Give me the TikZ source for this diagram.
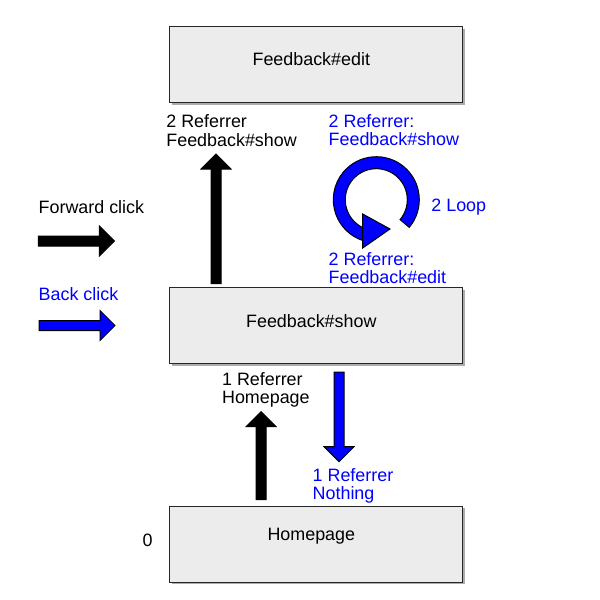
\documentclass[tikz,border=0pt]{standalone}
\usepackage{fontspec}
\setmainfont{Liberation Sans}
\usepackage{tikz}
\usetikzlibrary{calc,shadows}

\tikzset{
  fat/.style={to path={
    ($(\tikztostart)!2.5pt!90:(\tikztotarget)$)
    -- ($(\tikztotarget)!7.5pt!(\tikztostart)!2.5pt!-90:(\tikztostart)$)
    -- ($(\tikztotarget)!7.5pt!(\tikztostart)!7.5pt!-90:(\tikztostart)$)
    -- (\tikztotarget)
    -- ($(\tikztotarget)!7.5pt!(\tikztostart)!7.5pt!90:(\tikztostart)$)
    -- ($(\tikztotarget)!7.5pt!(\tikztostart)!2.5pt!90:(\tikztostart)$)
    -- ($(\tikztostart)!2.5pt!-90:(\tikztotarget)$) -- cycle}},
  fwd/.style={fat,draw=black,fill=black,line width=0.5pt},
  bck/.style={fat,draw=black,fill=blue,line width=0.5pt},
  page/.style={draw=black!85,line width=0.5pt,fill=gray!15,
    minimum width=146.7pt,minimum height=38pt,
    drop shadow={shadow xshift=1.2pt,shadow yshift=-1.2pt,fill=gray!65,opacity=1}},
  txt/.style={anchor=north west,inner sep=0pt,align=left}
}

\begin{document}
\begin{tikzpicture}[x=0.5pt,y=-0.5pt,font=\fontsize{8.95}{9.2}\selectfont]
\useasboundingbox (0,0) rectangle (600,600);

% pages
\node[page,text depth=5.7pt] (edit) at (316,64.7) {\hspace*{-4.7pt}Feedback\#edit};
\node[page,text depth=5pt] (show) at (316,325.7) {\hspace*{-4.7pt}Feedback\#show};
\node[page,text depth=9.5pt] (home) at (316,544) {\hspace*{-4.7pt}Homepage};
\node (zero) at (147.5,540) {0};

% legend
\node[txt] (fwdtxt) at (38.3,200) {Forward click};
\coordinate (fw1) at (38.3,241);
\coordinate (fw2) at (114.3,241);
\draw[fwd] (fw1) to (fw2);
\node[txt,text=blue] (bcktxt) at (38.3,287.3) {Back click};
\coordinate (bk1) at (39,325.5);
\coordinate (bk2) at (115,325.5);
\draw[bck] (bk1) to (bk2);

% clicks
\coordinate (up1) at (216,154);
\coordinate (up2) at (261,411.7);
\coordinate (dn) at (339,461.7);
\draw[fwd] ($(show.north -| up1)+(0,-3.5)$) to (up1);
\draw[fwd] ($(home.north -| up2)+(0,-6)$) to (up2);
\draw[bck] ($(show.south -| dn)+(0,8)$) to (dn);

% loop on show
\coordinate (lc) at (376.3,199.7);
\draw[draw=black,fill=blue,line width=0.5pt] ($(lc)+(40:43)$)
  arc[start angle=40,end angle=-252,radius=43]
  -- ($(lc)+(-252:31)$) arc[start angle=-252,end angle=40,radius=31] -- cycle;
\filldraw[fill=blue,draw=black,line width=0.5pt] (362.7,214) -- (390,229) -- (362.7,248) -- cycle;

% labels
\node[txt] (ref2) at (166,114.5) {2 Referrer\\Feedback\#show};
\node[txt,text=blue] (ref2b) at (328.3,114) {2 Referrer:\\Feedback\#show};
\node[txt,text=blue] (loop) at (431,198.3) {2 Loop};
\node[txt,text=blue] (ref2c) at (328.3,251.7) {2 Referrer:\\Feedback\#edit};
\node[txt] (ref1) at (221.7,371.7) {1 Referrer\\Homepage};
\node[txt,text=blue] (ref1b) at (312.3,468) {1 Referrer\\Nothing};
\end{tikzpicture}
\end{document}
